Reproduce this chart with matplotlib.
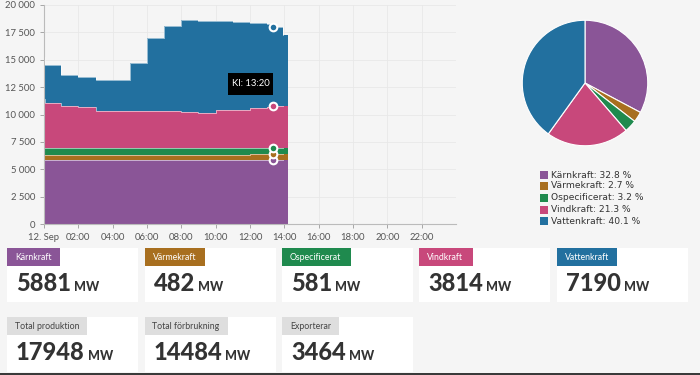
import matplotlib
matplotlib.use("Agg")
import matplotlib.pyplot as plt
from matplotlib.patches import Rectangle

# --- data -------------------------------------------------------------
hours = [0.0, 0.08, 1.0, 2.0, 3.0, 4.0, 5.0, 6.0, 7.0, 8.0, 9.0, 10.0,
         10.5, 11.0, 12.0, 13.0, 13.33, 13.9, 14.2]
karnkraft = [5860, 5860, 5860, 5855, 5850, 5850, 5850, 5850, 5850, 5850,
             5850, 5855, 5860, 5865, 5870, 5875, 5881, 5881, 5881]
varmekraft = [470, 470, 470, 475, 475, 475, 478, 480, 480, 482, 482, 482,
              482, 482, 482, 482, 482, 482, 482]
ospecificerat = [600, 600, 600, 595, 590, 590, 590, 585, 585, 585, 585, 585,
                 585, 585, 583, 582, 581, 581, 581]
vindkraft = [4460, 4120, 3850, 3735, 3435, 3385, 3382, 3385, 3385, 3283,
             3263, 3478, 3493, 3518, 3615, 3741, 3814, 3856, 3856]
vattenkraft = [3860, 3470, 2820, 2740, 2770, 2820, 4430, 6660, 7780, 8460,
               8380, 8120, 8080, 8030, 7850, 7620, 7190, 6460, 6460]

series_names = ["Kärnkraft", "Värmekraft", "Ospecificerat", "Vindkraft", "Vattenkraft"]
colors = ["#8a5597", "#a86f1f", "#1f8a4e", "#c8487b", "#22709f"]
pie_share = [32.8, 2.7, 3.2, 21.3, 40.1]

x_ticks = [0, 2, 4, 6, 8, 10, 12, 14, 16, 18, 20, 22]
x_labels = ["12. Sep", "02:00", "04:00", "06:00", "08:00", "10:00", "12:00",
            "14:00", "16:00", "18:00", "20:00", "22:00"]
y_ticks = [0, 2500, 5000, 7500, 10000, 12500, 15000, 17500, 20000]
y_labels = ["0", "2 500", "5 000", "7 500", "10 000", "12 500", "15 000",
            "17 500", "20 000"]

marker_hour = 13.33
marker_idx = hours.index(marker_hour)

card_labels = ["Kärnkraft", "Värmekraft", "Ospecificerat", "Vindkraft", "Vattenkraft"]
card_values = [5881, 482, 581, 3814, 7190]
total_labels = ["Total produktion", "Total förbrukning", "Exporterar"]
total_values = [17948, 14484, 3464]

# --- figure -----------------------------------------------------------
W, H = 700, 375
bg = "#f5f5f5"
fig = plt.figure(figsize=(7, 3.75), dpi=100, facecolor=bg)


def fx(x):
    return x / W


def fy(y):
    return 1 - y / H


ax = fig.add_axes([fx(44), fy(224), 412 / W, 219 / H])
ax.set_facecolor(bg)
series = [karnkraft, varmekraft, ospecificerat, vindkraft, vattenkraft]
ax.stackplot(hours, *series, colors=colors, step="post", linewidth=0)

# thin light separators on top of each layer
cum = [0] * len(hours)
tops = []
for s in series:
    cum = [c + v for c, v in zip(cum, s)]
    tops.append(cum)
    ax.plot(hours[:-1], cum[:-1], drawstyle="steps-post", color="white", alpha=0.55, lw=0.7)

# hover markers
for top, c in zip(tops, colors):
    ax.plot(marker_hour, top[marker_idx], "o", ms=5.5, mfc=c, mec="white", mew=1.5, zorder=5)

ax.set_xlim(0, 24)
ax.set_ylim(0, 20000)
ax.set_xticks(x_ticks)
ax.set_xticklabels(x_labels)
ax.set_yticks(y_ticks)
ax.set_yticklabels(y_labels)
ax.tick_params(axis="both", labelsize=6.8, colors="#999", labelcolor="#555", length=3, width=0.6)
for lab in ax.get_xticklabels() + ax.get_yticklabels():
    lab.set_fontfamily("Lato")
ax.grid(True, color="#e8e8e8", lw=0.6)
ax.set_axisbelow(True)
for side in ["top", "right"]:
    ax.spines[side].set_visible(False)
for side in ["left", "bottom"]:
    ax.spines[side].set_color("#bbb")
    ax.spines[side].set_linewidth(0.8)

# tooltip
fig.patches.append(Rectangle((fx(228), fy(95)), 45 / W, 22 / H, transform=fig.transFigure,
                             facecolor="black", edgecolor="none", zorder=10))
fig.text(fx(250.5), fy(84), "Kl: 13:20", color="white", fontsize=6.8, family="Lato",
         ha="center", va="center", zorder=11)

# pie
pax = fig.add_axes([fx(521), fy(147), 128 / W, 128 / H])
pax.pie(pie_share, colors=colors, startangle=90, counterclock=False,
        wedgeprops=dict(edgecolor="white", linewidth=0.8))
pax.set_xlim(-1.02, 1.02)
pax.set_ylim(-1.02, 1.02)
pax.set_aspect("equal")

legend_y = [175, 186, 198, 209.5, 221]
for name, pct, c, yy in zip(series_names, pie_share, colors, legend_y):
    fig.patches.append(Rectangle((fx(540), fy(yy + 4)), 8 / W, 8 / H, transform=fig.transFigure,
                                 facecolor=c, edgecolor="none"))
    fig.text(fx(551), fy(yy), f"{name}: {pct} %", fontsize=6.6, color="#333",
             family="DejaVu Sans", va="center")

# cards
card_x = [7, 144.5, 282, 419, 557]
card_w = 131
label_w_row1 = [53, 60, 69, 54, 60]
label_w_row2 = [80, 83, 57]

fig.canvas.draw()
renderer = fig.canvas.get_renderer()


def card(x, top, h, label, lw, lcol, tcol, value):
    fig.patches.append(Rectangle((fx(x), fy(top + h)), card_w / W, h / H, transform=fig.transFigure,
                                 facecolor="white", edgecolor="none"))
    fig.patches.append(Rectangle((fx(x), fy(top + 18)), lw / W, 18 / H, transform=fig.transFigure,
                                 facecolor=lcol, edgecolor="none"))
    fig.text(fx(x + 8), fy(top + 9.5), label, fontsize=6.3, color=tcol, family="Lato", va="center")
    t = fig.text(fx(x + 9), fy(top + 43), str(value), fontsize=17, fontweight="black",
                 color="#333", family="Lato", va="baseline")
    bb = t.get_window_extent(renderer)
    fig.text((bb.x1 + 3) / W, fy(top + 43), "MW", fontsize=9, fontweight="black",
             color="#333", family="Lato", va="baseline")


for x, lab, lw, c, v in zip(card_x, card_labels, label_w_row1, colors, card_values):
    card(x, 248, 54, lab, lw, c, "white", v)
for x, lab, lw, v in zip(card_x[:3], total_labels, label_w_row2, total_values):
    card(x, 317, 55, lab, lw, "#dedede", "#444", v)

# dark strip at the bottom edge
fig.patches.append(Rectangle((0, 0), 1, 2 / H, transform=fig.transFigure,
                             facecolor="#3a3a3a", edgecolor="none"))

fig.savefig("out.png", dpi=100, facecolor=bg)
